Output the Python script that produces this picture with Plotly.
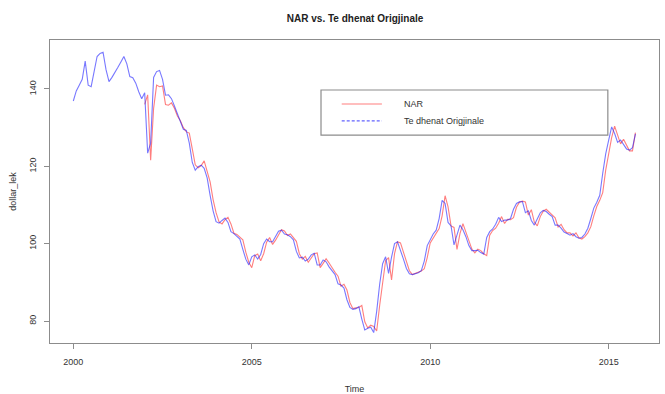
import plotly.graph_objects as go

# Monthly exchange rate (dollar_lek), Jan 2000 - Oct 2015
start_year = 2000
original = [
    136.9, 139.5, 141.0, 142.5, 147.2, 141.0, 140.6, 144.5, 148.4, 149.2, 149.5, 145.0,
    141.9, 143.0, 144.2, 145.6, 147.0, 148.4, 146.5, 143.2, 142.9, 141.5, 139.3, 137.5,
    139.0, 123.4, 126.0, 143.0, 144.5, 144.8, 142.5, 138.4, 138.5, 137.5, 135.6, 133.5,
    131.2, 129.6, 129.3, 126.0, 121.0, 119.0, 119.9, 120.3, 119.5, 117.0, 112.5, 108.5,
    105.7, 105.3, 106.0, 106.6, 105.5, 103.1, 102.6, 102.0, 101.2, 98.5, 96.0, 94.5,
    96.6, 97.1, 96.0, 97.2, 100.0, 101.2, 100.5, 100.5, 102.0, 103.2, 103.5, 102.5,
    102.3, 101.8, 101.0, 98.0, 96.3, 96.5, 95.5, 96.0, 97.1, 97.5, 94.5, 94.5,
    95.8, 95.3, 94.0, 93.0, 92.0, 89.6, 89.3, 88.5, 85.5, 83.5, 83.0, 83.2,
    83.7, 80.5, 77.7, 78.1, 78.4, 77.0, 82.5, 89.5, 94.8, 96.6, 92.3, 96.5,
    100.0, 100.5, 98.5, 96.0, 93.6, 92.2, 92.0, 92.2, 92.5, 93.0, 95.5, 99.5,
    101.0, 102.5, 103.5, 106.5, 111.2, 110.4, 105.5, 104.6, 99.7, 102.0, 104.8, 103.6,
    101.8, 99.5, 98.2, 98.2, 98.3, 97.7, 97.3, 101.6, 103.1, 103.8, 105.0, 106.8,
    105.7, 106.1, 106.1, 106.5, 108.9, 110.4, 110.8, 110.9, 108.0, 108.5, 106.0, 104.8,
    106.5, 108.0, 108.6, 108.3, 107.6, 107.0, 104.8, 104.8, 104.0, 103.0, 102.6, 102.2,
    102.6, 101.8, 101.4, 101.6, 102.5, 104.0, 106.5, 109.2, 110.7, 112.5, 118.2, 123.2,
    126.8, 130.2, 128.5, 126.2, 126.8, 125.7, 124.5, 124.2, 124.8, 128.4,
]

# NAR model output, available from Jan 2002 onwards
nar_start_index = 24
nar = [
    136.0, 138.5, 121.6, 135.0, 141.0, 140.6, 140.8, 136.0, 135.8, 136.4, 135.0, 133.0,
    131.8, 130.0, 128.9, 128.6, 124.5, 120.4, 119.6, 120.2, 121.4, 118.6, 116.0, 111.4,
    108.0, 105.6, 105.1, 106.2, 106.8, 105.1, 102.7, 102.4, 101.6, 101.0, 97.8, 95.2,
    93.8, 96.9, 97.3, 95.6, 97.4, 100.4, 101.6, 99.8, 100.9, 102.4, 103.6, 103.3,
    102.1, 102.5, 101.6, 100.6, 97.4, 96.0, 96.7, 95.2, 96.3, 97.4, 97.6, 93.8,
    94.9, 96.1, 95.0, 93.6, 92.6, 91.6, 89.0, 89.5, 88.0, 84.8, 83.2, 83.4,
    83.5, 84.0, 79.8, 78.2, 78.9, 78.6, 77.4, 84.0, 90.5, 95.6, 96.4, 90.6,
    97.4, 100.5, 100.2, 97.8, 95.4, 93.0, 92.0, 92.3, 92.4, 92.9, 93.5, 96.4,
    100.2, 101.5, 102.9, 103.9, 107.2, 112.4, 109.5, 104.6, 104.2, 98.5, 102.6, 105.2,
    103.0, 101.0, 98.6, 97.6, 98.6, 98.2, 97.4, 96.9, 102.2, 103.4, 104.0, 105.3,
    107.0, 105.2, 106.3, 106.2, 106.7, 109.4, 110.7, 111.0, 110.8, 107.4, 108.8, 105.6,
    104.6, 107.0, 108.4, 108.9, 108.2, 107.3, 106.7, 104.3, 105.0, 103.6, 102.8, 102.8,
    102.0, 102.8, 101.5, 101.2, 101.8, 102.8, 104.4, 107.2, 109.6, 111.2, 113.2, 119.0,
    123.8, 127.4, 130.4, 127.8, 125.8, 127.0, 125.4, 124.0, 124.0, 128.7,
]

x_ticks = [2000, 2005, 2010, 2015]
y_ticks = [80, 100, 120, 140]

t_original = [start_year + i / 12 for i in range(len(original))]
t_nar = [start_year + (nar_start_index + i) / 12 for i in range(len(nar))]

RED = "rgba(255,40,40,0.6)"
BLUE = "rgba(30,30,255,0.6)"
AXIS = "#8c8c8c"
TEXT = "#333333"
FONT = "Liberation Sans"

fig = go.Figure()
fig.add_trace(go.Scatter(x=t_nar, y=nar, mode="lines", name="NAR",
                         line=dict(color=RED, width=1.1)))
fig.add_trace(go.Scatter(x=t_original, y=original, mode="lines",
                         name="Te dhenat Origjinale",
                         line=dict(color=BLUE, width=1.1)))

axis_common = dict(showgrid=False, zeroline=False, showline=True, mirror=True,
                   linecolor=AXIS, linewidth=1.2, ticks="outside", ticklen=5,
                   tickcolor=AXIS, automargin=False,
                   tickfont=dict(size=9, color=TEXT, family=FONT))

fig.update_layout(
    width=665, height=394,
    margin=dict(l=50, r=6, t=40, b=51),
    paper_bgcolor="white", plot_bgcolor="white",
    showlegend=False,
    title=dict(text="<b>NAR vs. Te dhenat Origjinale</b>", x=0.534, xanchor="center",
               y=1 - 18 / 394, yanchor="middle",
               font=dict(size=10, color="#222222", family=FONT)),
    xaxis=dict(range=[1999.347, 2016.41], tickvals=x_ticks,
               ticktext=[str(v) for v in x_ticks], ticklabelstandoff=5,
               title=dict(text="Time", font=dict(size=9, color=TEXT, family=FONT),
                          standoff=20),
               **axis_common),
    yaxis=dict(range=[74.31, 152.67], tickvals=y_ticks, tickangle=-90,
               ticktext=[str(v) for v in y_ticks], ticklabelstandoff=4,
               title=dict(text="dollar_lek", font=dict(size=9, color=TEXT, family=FONT),
                          standoff=10),
               **axis_common),
)

# Legend box drawn in paper coordinates
fig.add_shape(type="rect", xref="paper", yref="paper", x0=0.445, x1=0.916,
              y0=0.686, y1=0.835, line=dict(color=AXIS, width=1.2),
              fillcolor="white", layer="above")
fig.add_shape(type="line", xref="paper", yref="paper", x0=0.479, x1=0.545,
              y0=0.789, y1=0.789, line=dict(color=RED, width=1.1), layer="above")
fig.add_shape(type="line", xref="paper", yref="paper", x0=0.479, x1=0.545,
              y0=0.733, y1=0.733,
              line=dict(color="rgba(70,70,255,0.85)", width=1.2, dash="3px,2px"),
              layer="above")
for label, ypos in [("NAR", 0.789), ("Te dhenat Origjinale", 0.733)]:
    fig.add_annotation(text=label, xref="paper", yref="paper", x=0.578, y=ypos,
                       xanchor="left", yanchor="middle", showarrow=False,
                       font=dict(size=9, color=TEXT, family=FONT))

fig.write_html("out.html")
